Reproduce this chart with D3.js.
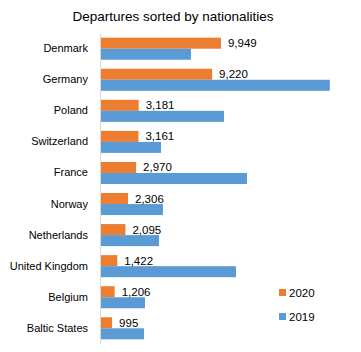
<!DOCTYPE html>
<html>
<head>
<meta charset="utf-8">
<script src="https://cdn.jsdelivr.net/npm/d3@7"></script>
<style>
  body { margin: 0; background: #fff; }
  text { font-family: "Liberation Sans", Arial, sans-serif; fill: #000; }
</style>
</head>
<body>
<svg id="bar-chart"></svg>
<script>
// Chart data
const countries = ["Denmark", "Germany", "Poland", "Switzerland", "France", "Norway",
  "Netherlands", "United Kingdom", "Belgium", "Baltic States"];
const values2020 = [9949, 9220, 3181, 3161, 2970, 2306, 2095, 1422, 1206, 995];
const values2019 = [7480, 18900, 10200, 5020, 12090, 5180, 4850, 11180, 3700, 3620];
const seriesNames = ["2020", "2019"];
const colors = { "2020": "#ED7D31", "2019": "#5B9BD5" };

let width = 361, height = 352;
let margin = {top: 33, right: 20, bottom: 8, left: 100};

let svg = d3.select("#bar-chart")
  .attr("width", width)
  .attr("height", height);

// Title
svg.append("text")
  .attr("x", 173)
  .attr("y", 21)
  .attr("text-anchor", "middle")
  .style("font-size", "13.5px")
  .text("Departures sorted by nationalities");

let data = countries.map((c, i) => ({country: c, "2020": values2020[i], "2019": values2019[i]}));

// Scales
let yScale = d3.scaleBand()
  .domain(countries)
  .range([margin.top, height - margin.bottom])
  .paddingInner(0.29)
  .paddingOuter(0.15);

let ySub = d3.scaleBand()
  .domain(seriesNames)
  .range([0, yScale.bandwidth()]);

let xScale = d3.scaleLinear()
  .domain([0, 10000])
  .range([margin.left, margin.left + 121.6]);

// Bars
let groups = svg.append("g")
  .selectAll("g")
  .data(data)
  .join("g")
  .attr("transform", d => `translate(0, ${yScale(d.country)})`);

groups.selectAll("rect")
  .data(d => seriesNames.map(s => ({series: s, value: d[s]})))
  .join("rect")
  .attr("x", xScale(0))
  .attr("y", d => ySub(d.series))
  .attr("height", ySub.bandwidth())
  .attr("width", d => xScale(d.value) - xScale(0))
  .attr("fill", d => colors[d.series]);

// Value labels for 2020
groups.append("text")
  .attr("x", d => xScale(d["2020"]) + 7)
  .attr("y", ySub("2020") + ySub.bandwidth() / 2)
  .attr("dy", "0.35em")
  .style("font-size", "11.5px")
  .text(d => d3.format(",")(d["2020"]));

// Vertical axis
let yAxis = svg.append("g")
  .attr("class", "y-axis")
  .attr("transform", `translate(${margin.left}, 0)`)
  .call(d3.axisLeft(yScale).tickSize(0).tickPadding(12));

yAxis.select(".domain")
  .attr("stroke", "#d9d9d9")
  .attr("d", `M0.5,${margin.top}V${height - margin.bottom}`);

yAxis.selectAll("text")
  .style("font-size", "11px")
  .style("font-family", "'Liberation Sans', Arial, sans-serif");

// Legend
let legend = svg.append("g")
  .selectAll("g")
  .data(seriesNames)
  .join("g")
  .attr("transform", (d, i) => `translate(279, ${289 + i * 24})`);

legend.append("rect")
  .attr("width", 7)
  .attr("height", 7)
  .attr("fill", d => colors[d]);

legend.append("text")
  .attr("x", 10)
  .attr("y", 3.5)
  .attr("dy", "0.35em")
  .style("font-size", "11.5px")
  .text(d => d);
</script>
</body>
</html>
